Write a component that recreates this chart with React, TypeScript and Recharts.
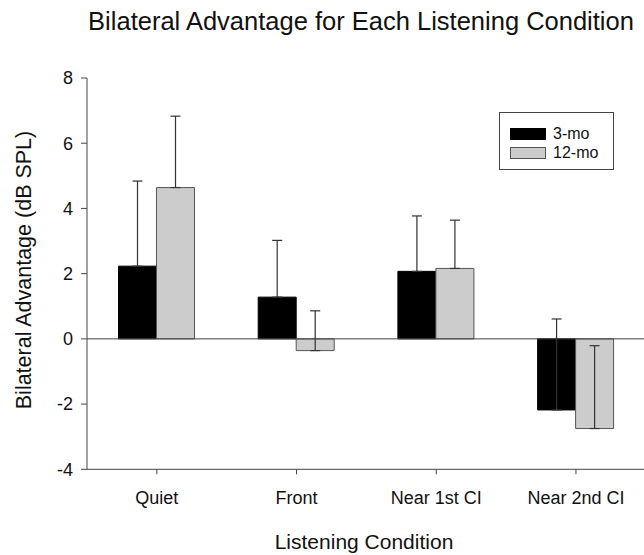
import {
  Bar,
  BarChart,
  ErrorBar,
  Legend,
  ReferenceLine,
  XAxis,
  YAxis,
} from 'recharts';

const FONT = '"Liberation Sans", Arial, sans-serif';

// listening conditions, mean bilateral advantage (dB) and one-sided SD
const conditions = ['Quiet', 'Front', 'Near 1st CI', 'Near 2nd CI'];
const threeMo = [2.23, 1.28, 2.07, -2.18];
const threeMoSd = [2.61, 1.74, 1.7, 2.79];
const twelveMo = [4.64, -0.36, 2.16, -2.75];
const twelveMoSd = [2.19, 1.22, 1.48, 2.54];
const yTicks = [-4, -2, 0, 2, 4, 6, 8];

const data = conditions.map((name, i) => ({
  name,
  m3: threeMo[i],
  m3Err: [0, threeMoSd[i]],
  m12: twelveMo[i],
  m12Err: [0, twelveMoSd[i]],
}));

const legendItems = [
  { label: '3-mo', fill: '#000000', stroke: '#000000' },
  { label: '12-mo', fill: '#cccccc', stroke: '#555555' },
];

function BoxLegend() {
  return (
    <div
      style={{
        width: 115,
        height: 58,
        border: '1px solid #444',
        background: '#fff',
        fontFamily: FONT,
        fontSize: 16,
        color: '#111',
        paddingTop: 11,
        boxSizing: 'border-box',
      }}
    >
      {legendItems.map((it) => (
        <div
          key={it.label}
          style={{ display: 'flex', alignItems: 'center', height: 19.5, paddingLeft: 10 }}
        >
          <span
            style={{
              display: 'inline-block',
              width: 34,
              height: 10,
              background: it.fill,
              border: `1px solid ${it.stroke}`,
              marginRight: 7,
            }}
          />
          <span>{it.label}</span>
        </div>
      ))}
    </div>
  );
}

export default function App() {
  return (
    <div
      style={{
        position: 'absolute',
        left: 0,
        top: 0,
        width: 644,
        height: 555,
        overflow: 'hidden',
        background: '#fff',
      }}
    >
      <BarChart
        width={700}
        height={555}
        data={data}
        margin={{ top: 78, right: 54.2, bottom: 25.7, left: 27 }}
        barCategoryGap={31.5}
        barGap={0}
      >
        <XAxis
          dataKey="name"
          height={60}
          interval={0}
          tickSize={5}
          tickMargin={17}
          stroke="#444"
          tick={{ fill: '#111', fontSize: 18, fontFamily: FONT }}
        />
        <YAxis
          width={60}
          domain={[-4, 8]}
          ticks={yTicks}
          allowDataOverflow
          tickSize={6}
          tickMargin={8}
          stroke="#444"
          tick={{ fill: '#111', fontSize: 18, fontFamily: FONT }}
        />
        <ReferenceLine y={0} stroke="#444" strokeWidth={1} />
        {/* middle/center so the legend reserves no space from the plot */}
        <Legend
          layout="horizontal"
          verticalAlign="middle"
          align="center"
          content={<BoxLegend />}
          wrapperStyle={{ position: 'absolute', left: 499, top: 112, width: 'auto' }}
        />
        <Bar dataKey="m3" name="3-mo" fill="#000000" stroke="#000000" isAnimationActive={false}>
          <ErrorBar dataKey="m3Err" width={5} stroke="#333" strokeWidth={1.2} isAnimationActive={false} />
        </Bar>
        <Bar dataKey="m12" name="12-mo" fill="#cccccc" stroke="#555555" isAnimationActive={false}>
          <ErrorBar dataKey="m12Err" width={5} stroke="#333" strokeWidth={1.2} isAnimationActive={false} />
        </Bar>
      </BarChart>

      {/* title and axis titles */}
      <svg
        width={644}
        height={555}
        style={{ position: 'absolute', left: 0, top: 0, pointerEvents: 'none' }}
      >
        <text x={361} y={30} textAnchor="middle" fontSize={25.5} fontFamily={FONT} fill="#111">
          Bilateral Advantage for Each Listening Condition
        </text>
        <text x={364} y={549} textAnchor="middle" fontSize={21} fontFamily={FONT} fill="#111">
          Listening Condition
        </text>
        <text
          transform="translate(31,270) rotate(-90)"
          textAnchor="middle"
          fontSize={21.5}
          fontFamily={FONT}
          fill="#111"
        >
          Bilateral Advantage (dB SPL)
        </text>
      </svg>
    </div>
  );
}
